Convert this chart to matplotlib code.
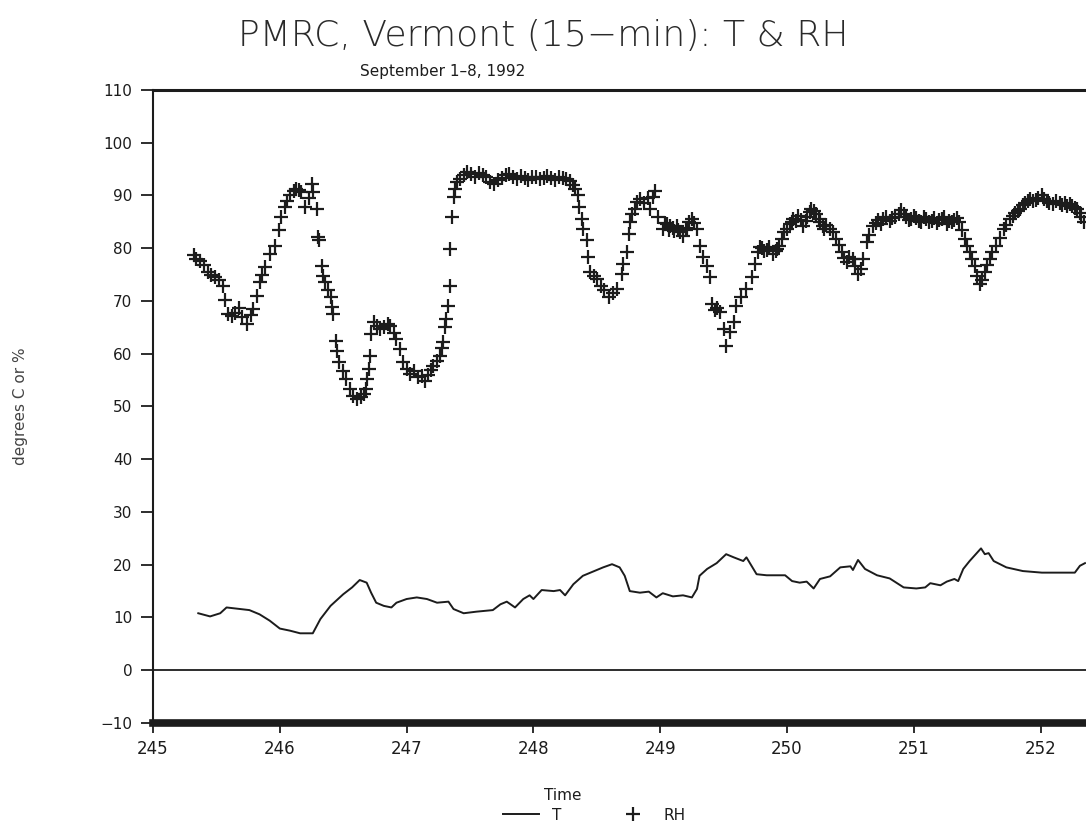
import matplotlib
matplotlib.use("Agg")
import matplotlib.pyplot as plt

# Julian day of year (1992) and relative humidity (%), PMRC Vermont
rh_day = [
    245.32, 245.34, 245.37, 245.40, 245.43, 245.46, 245.49, 245.52, 245.55, 245.57,
    245.59, 245.62, 245.65, 245.68, 245.70, 245.74, 245.77, 245.79, 245.82, 245.84,
    245.86, 245.88, 245.92, 245.96, 245.99, 246.01, 246.04, 246.06, 246.08, 246.11,
    246.13, 246.15, 246.17, 246.20, 246.23, 246.25, 246.26, 246.29, 246.30, 246.31,
    246.33, 246.34, 246.36, 246.38, 246.40, 246.41, 246.42, 246.44, 246.45, 246.47,
    246.50, 246.52, 246.55, 246.58, 246.61, 246.64, 246.66, 246.68, 246.69, 246.70,
    246.71, 246.72, 246.74, 246.77, 246.79, 246.82, 246.85, 246.87, 246.90, 246.92,
    246.95, 246.97, 247.00, 247.03, 247.06, 247.09, 247.12, 247.145, 247.17, 247.19,
    247.21, 247.24, 247.26, 247.28, 247.29, 247.30, 247.31, 247.33, 247.34, 247.345,
    247.355, 247.37, 247.38, 247.395,
    247.42, 247.45, 247.48, 247.51, 247.54, 247.57, 247.60, 247.63, 247.66, 247.69,
    247.72, 247.75, 247.78, 247.81, 247.84, 247.87, 247.90, 247.93, 247.96, 247.99,
    248.02, 248.05, 248.08, 248.11, 248.14, 248.17, 248.20, 248.23, 248.26, 248.29,
    248.31, 248.33, 248.35, 248.36, 248.38, 248.39, 248.42, 248.43, 248.45, 248.48,
    248.50, 248.53, 248.56, 248.60, 248.63, 248.66, 248.70, 248.71, 248.735, 248.75,
    248.76, 248.78, 248.80, 248.82, 248.84, 248.87, 248.90, 248.92, 248.94, 248.96,
    248.98,
    249.02, 249.04, 249.05, 249.07, 249.08, 249.10, 249.11, 249.13, 249.14, 249.16,
    249.18, 249.20, 249.21, 249.23, 249.25, 249.27, 249.29,
    249.31, 249.34, 249.37, 249.39, 249.41, 249.43, 249.45, 249.47, 249.50, 249.52,
    249.55, 249.58, 249.60, 249.64, 249.68, 249.72,
    249.75, 249.77, 249.79, 249.80, 249.82, 249.84, 249.86, 249.89, 249.91, 249.92,
    249.94, 249.96, 249.98, 250.00, 250.02, 250.04, 250.05, 250.07, 250.09, 250.11,
    250.13, 250.15, 250.16, 250.18, 250.19, 250.21, 250.23, 250.25, 250.26, 250.28,
    250.29, 250.31, 250.34, 250.36, 250.39, 250.41, 250.43, 250.45, 250.47, 250.49,
    250.52, 250.54, 250.56, 250.58, 250.60, 250.63, 250.65, 250.68, 250.70,
    250.72, 250.74, 250.76, 250.78, 250.81, 250.83, 250.85, 250.88, 250.90, 250.92,
    250.94, 250.96, 250.98, 251.00, 251.02, 251.04, 251.06, 251.08, 251.10, 251.12,
    251.14, 251.16, 251.18, 251.20, 251.22, 251.24, 251.26, 251.28, 251.30, 251.32,
    251.34, 251.36,
    251.38, 251.40, 251.42, 251.44, 251.46, 251.48, 251.50, 251.52, 251.54, 251.56,
    251.58,
    251.60, 251.62, 251.65, 251.68, 251.71, 251.73, 251.76, 251.78, 251.80, 251.82,
    251.84, 251.86, 251.88, 251.90, 251.92, 251.94, 251.96, 251.98, 252.01, 252.03,
    252.05, 252.07, 252.10, 252.12, 252.15, 252.17, 252.19, 252.21, 252.23, 252.25,
    252.27, 252.29, 252.31, 252.32, 252.34,
]
rh_pct = [
    78.8, 78.0, 77.6, 76.8, 75.5, 75.0, 74.6, 74.0, 72.9, 70.1,
    67.6, 67.2, 67.8, 68.6, 67.0, 65.7, 67.4, 68.5, 71.0, 73.6,
    75.0, 76.4, 78.9, 80.5, 83.4, 85.9, 87.8, 89.0, 90.0, 90.8,
    91.3, 91.0, 90.6, 87.8, 89.5, 92.2, 90.6, 87.5, 82.1, 81.5,
    76.7, 74.8, 73.6, 72.0, 70.7, 68.8, 67.6, 62.5, 60.6, 58.4,
    56.8, 55.2, 53.3, 52.0, 51.5, 51.8, 52.4, 53.3, 55.2, 57.1,
    59.6, 63.8, 66.0, 65.2, 64.7, 65.0, 65.6, 65.3, 64.0, 62.8,
    60.9, 58.4, 57.1, 56.2, 56.8, 55.6, 55.8, 54.9, 56.0, 57.0,
    57.7, 58.6, 59.6, 61.0, 62.2, 65.0, 66.6, 69.1, 72.9, 79.8,
    85.9, 89.7, 91.3, 92.5,
    93.2, 93.8, 94.4, 94.0, 93.6, 94.2, 93.8, 93.5, 92.6, 92.2,
    93.0, 93.4, 93.8, 94.1, 93.5, 93.2, 93.7, 93.4, 93.0, 93.5,
    93.6, 93.2, 93.4, 93.7, 93.3, 93.0, 93.5, 93.4, 93.2, 92.8,
    92.0, 91.3, 90.0, 87.8, 85.6, 83.7, 81.5, 78.3, 75.5, 74.8,
    74.2, 72.9, 72.0, 70.8, 71.6, 72.3, 75.1, 77.0, 79.3, 82.7,
    84.9, 86.5, 87.5, 88.8, 89.4, 88.5, 89.6, 87.5, 89.8, 90.8,
    85.9,
    83.7, 84.8, 84.6, 83.5, 84.3, 83.8, 83.2, 84.3, 83.5, 83.0,
    82.4, 83.4, 83.8, 84.9, 85.6, 84.8, 83.7,
    80.5, 78.3, 76.7, 74.5, 69.4, 68.2, 68.6, 67.9, 64.7, 61.5,
    64.1, 66.0, 69.1, 70.7, 72.3, 74.5,
    77.0, 79.3, 80.2, 80.0, 79.4, 79.6, 80.3, 78.9, 79.5, 79.8,
    80.5, 81.8, 83.0, 83.6, 84.6, 85.0, 85.6, 85.2, 86.2, 85.4,
    84.3, 85.2, 86.0, 86.8, 87.5, 87.0, 86.5, 85.6, 85.0, 84.2,
    83.7, 84.5, 83.7, 83.0, 81.8, 80.6, 79.3, 78.2, 77.4, 78.4,
    78.0, 76.6, 75.1, 76.0, 78.0, 81.2, 82.5, 84.3, 84.8,
    85.3, 84.6, 85.6, 86.0, 85.2, 85.8, 86.0, 86.5, 87.2, 86.4,
    86.0, 85.4, 85.5, 86.2, 85.8, 85.2, 85.0, 85.9, 85.6, 84.9,
    85.2, 85.7, 84.8, 85.3, 85.5, 85.9, 84.6, 85.2, 85.0, 85.4,
    85.8, 84.9,
    83.5, 81.8, 80.5, 79.3, 78.0, 76.7, 74.8, 73.2, 74.0, 75.5,
    76.8,
    78.0, 79.2, 80.5, 82.0, 83.7, 84.5, 85.6, 86.2, 86.6, 87.0,
    87.5, 88.2, 88.6, 89.0, 89.4, 89.0, 89.2, 89.6, 90.0, 89.4,
    89.0, 88.6, 88.4, 88.9, 88.6, 88.2, 88.5, 88.1, 88.4, 88.0,
    87.6, 87.5, 86.6, 86.0, 84.9,
]

# Air temperature (degrees C)
t_day = [
    245.357, 245.45, 245.53, 245.58, 245.76, 245.84, 245.92, 246.00, 246.08, 246.16,
    246.26, 246.32, 246.40, 246.50, 246.57, 246.63, 246.685, 246.72, 246.76, 246.82,
    246.88, 246.92, 247.00, 247.08, 247.16, 247.24, 247.33, 247.37, 247.45, 247.55,
    247.68, 247.74, 247.79, 247.855, 247.92, 247.97, 248.00, 248.065, 248.16, 248.21,
    248.25, 248.315, 248.39, 248.47, 248.55, 248.62, 248.68, 248.72, 248.76, 248.84,
    248.91, 248.97, 249.02, 249.10, 249.18, 249.25, 249.29, 249.31, 249.37, 249.445,
    249.52, 249.58, 249.655, 249.68, 249.76, 249.84, 249.985, 250.04, 250.10, 250.155,
    250.21, 250.26, 250.34, 250.42, 250.50, 250.52, 250.56, 250.615, 250.71, 250.81,
    250.92, 251.02, 251.09, 251.13, 251.21, 251.26, 251.32, 251.35, 251.39, 251.44,
    251.50, 251.53, 251.56, 251.59, 251.63, 251.73, 251.86, 252.01, 252.27, 252.31,
    252.35,
]
t_degc = [
    10.8, 10.2, 10.8, 11.9, 11.4, 10.6, 9.4, 7.9, 7.5, 7.0,
    7.0, 9.7, 12.2, 14.4, 15.7, 17.1, 16.6, 14.7, 12.8, 12.2,
    11.9, 12.8, 13.5, 13.8, 13.5, 12.8, 13.0, 11.6, 10.8, 11.1,
    11.4, 12.5, 13.0, 11.9, 13.5, 14.2, 13.5, 15.2, 15.0, 15.2,
    14.2, 16.3, 17.9, 18.7, 19.5, 20.1, 19.5, 17.9, 15.0, 14.7,
    14.9, 13.8, 14.6, 14.0, 14.2, 13.8, 15.4, 17.9, 19.2, 20.3,
    22.0, 21.4, 20.7, 21.4, 18.2, 18.0, 18.0, 16.9, 16.6, 16.8,
    15.5, 17.3, 17.8, 19.5, 19.7, 19.0, 20.9, 19.2, 18.0, 17.4,
    15.7, 15.5, 15.7, 16.5, 16.1, 16.8, 17.3, 16.9, 19.2, 20.7,
    22.3, 23.1, 22.0, 22.2, 20.7, 19.5, 18.8, 18.5, 18.5, 19.8,
    20.3,
]

x_ticks = [245, 246, 247, 248, 249, 250, 251, 252]
y_ticks = [-10, 0, 10, 20, 30, 40, 50, 60, 70, 80, 90, 100, 110]

ink = "#1c1c1c"
label_font = "DejaVu Sans"

fig = plt.figure(figsize=(10.86, 8.31), dpi=100)
ax = fig.add_axes([0.1409, 0.1300, 0.8591, 0.7617])

(t_line,) = ax.plot(t_day, t_degc, color=ink, linewidth=1.4, label="T")
(rh_pts,) = ax.plot(rh_day, rh_pct, linestyle="none", marker="+",
                    markersize=10.5, markeredgewidth=1.6, color=ink, label="RH")
ax.axhline(0, color=ink, linewidth=1.3)

ax.set_xlim(245, 252.358)
ax.set_ylim(-10, 110)
ax.set_xticks(x_ticks)
ax.set_yticks(y_ticks)
ax.set_xticklabels([str(v) for v in x_ticks])
ax.set_yticklabels([f"{v}" if v >= 0 else f"\u2212{-v}" for v in y_ticks])

ax.spines["right"].set_visible(False)
ax.spines["left"].set_linewidth(1.5)
ax.spines["left"].set_color(ink)
ax.spines["top"].set_linewidth(2.2)
ax.spines["top"].set_color(ink)
ax.spines["bottom"].set_linewidth(5.5)
ax.spines["bottom"].set_color(ink)

ax.tick_params(axis="y", direction="out", length=9, width=1.3, pad=6,
               labelsize=11, colors=ink)
ax.tick_params(axis="x", direction="out", length=7, width=1.3, pad=5,
               labelsize=12, colors=ink)
for lab in ax.get_xticklabels() + ax.get_yticklabels():
    lab.set_fontfamily(label_font)

ax.set_ylabel("degrees C or %", fontsize=11, color="#444444", labelpad=52,
              fontfamily=label_font)

fig.text(0.5, 0.957, "PMRC, Vermont (15\u2212min): T & RH", ha="center",
         va="center", fontsize=26, color="#2a2a2a", fontfamily=label_font,
         fontweight="light")
fig.text(0.408, 0.914, "September 1\u20138, 1992", ha="center", va="center",
         fontsize=11, color=ink, fontfamily=label_font)
fig.text(0.518, 0.043, "Time", ha="center", va="center", fontsize=11,
         color=ink, fontfamily=label_font)

fig.legend(handles=[t_line, rh_pts], loc="center", ncol=2,
           bbox_to_anchor=(0.547, 0.019), frameon=False,
           handlelength=2.4, columnspacing=3.5, numpoints=1,
           labelcolor=ink, prop={"family": label_font, "size": 11})

fig.savefig("out.png", dpi=100, facecolor="white")
